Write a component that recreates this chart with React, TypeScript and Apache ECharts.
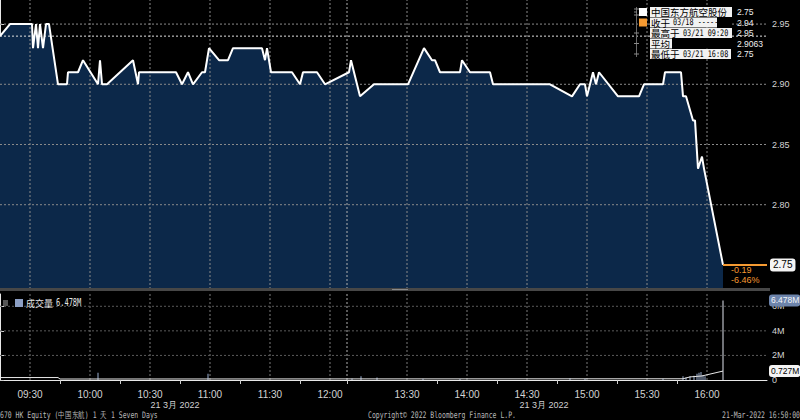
import React, { useEffect, useRef } from "react";
import * as echarts from "echarts";

// ---------- DATA ----------
const priceTimes = [
  "09:15", "09:20", "09:31", "09:31:30", "09:33", "09:34", "09:35", "09:36:30", "09:38", "09:39:30",
  "09:44", "09:48:30", "09:49", "09:54", "09:56:30", "10:04", "10:05", "10:06", "10:08:30", "10:21:30",
  "10:24", "10:24:30", "10:43", "10:46", "10:49", "10:51:30", "10:56", "10:57:30", "10:59:30", "11:04:30",
  "11:09", "11:11:30", "11:26", "11:27:30", "11:28:30", "11:30:30", "11:41", "11:45", "11:46:30", "11:53:30",
  "11:57:30", "13:01", "13:02", "13:06:30", "13:13:30", "13:30:30", "13:38:30", "13:42:30", "13:44", "13:46:30",
  "13:56:30", "13:57:30", "14:01:30", "14:11:30", "14:13", "14:41:30", "14:52:30", "14:56:30", "14:59", "15:00",
  "15:03", "15:04:30", "15:06", "15:15:30", "15:26", "15:28:30", "15:38", "15:39", "15:47", "15:48",
  "15:49:30", "15:53", "15:54", "15:55:30", "15:57:30", "15:58:30", "16:08",
];
const prices = [
  2.94, 2.95, 2.95, 2.93, 2.95, 2.93, 2.95, 2.93, 2.95, 2.95,
  2.90, 2.90, 2.91, 2.91, 2.92, 2.90, 2.92, 2.90, 2.90, 2.92,
  2.90, 2.91, 2.91, 2.90, 2.91, 2.90, 2.91, 2.91, 2.93, 2.92,
  2.92, 2.93, 2.93, 2.92, 2.93, 2.91, 2.91, 2.90, 2.91, 2.91,
  2.90, 2.91, 2.92, 2.89, 2.90, 2.90, 2.93, 2.92, 2.92, 2.91,
  2.91, 2.92, 2.91, 2.91, 2.90, 2.90, 2.89, 2.90, 2.90, 2.89,
  2.91, 2.90, 2.91, 2.89, 2.89, 2.90, 2.90, 2.91, 2.91, 2.89,
  2.89, 2.87, 2.87, 2.83, 2.84, 2.83, 2.75,
];
const prevClose = 2.94;

const volTimes = [
  "10:04", "10:59", "13:02:30", "13:07", "13:15", "13:38", "13:56:30", "14:51:30", "14:59", "15:38",
  "15:48", "15:49:30", "15:51:30", "15:53:30", "15:55", "15:56", "15:57", "15:58", "15:59", "16:08",
];
const volumes = [
  0.6, 0.5, 0.12, 0.3, 0.2, 0.1, 0.08, 0.15, 0.1, 0.1,
  0.3, 0.2, 0.3, 0.35, 0.5, 0.6, 0.65, 0.4, 0.3, 6.478,
]; // millions

const avgTimes = ["09:15", "09:44", "09:45", "15:48", "15:51:30", "15:57:30", "16:08"];
const avgVolumes = [0.2, 0.2, 0.08, 0.1, 0.25, 0.33, 0.727]; // millions

const labelTimes = ["09:30", "10:00", "10:30", "11:00", "11:30", "12:00", "13:30", "14:00", "14:30", "15:00", "15:30", "16:00"];
const tickTimes = ["09:45", "10:15", "10:45", "11:15", "11:45", "13:00", "13:45", "14:15", "14:45", "15:15", "15:45"];
const lunchTime = "13:00";
const priceLabels = [2.8, 2.85, 2.9, 2.95];
const priceTicks = [2.75, 2.8, 2.85, 2.9, 2.95];
const priceMinorTicks = [2.775, 2.825, 2.875, 2.925];
const priceGrid = [2.8, 2.85, 2.9, 2.95];
const volTicks = [0, 2, 4, 6];
const volGrid = [2, 4, 6];

const legendCJK = ["中国东方航空股份", "收于", "最高于", "平均", "最低于"];
const legendLatin = ["", "03/18 -----", "03/21 09:20", "", "03/21 16:08"];
const legendValues = ["2.75", "2.94", "2.95", "2.9063", "2.75"];
const volLegendLabel = "成交量";
const dateLabel = "21 3月 2022";
const footerLeft = "670 HK Equity (中国东航) 1 天 1 Seven Days";
const footerMid = "Copyright© 2022 Bloomberg Finance L.P.";
const footerRight = "21-Mar-2022 16:50:00";

// ---------- helpers ----------
const toX = (t: string) => {
  const [h, m, s = 0] = t.split(":").map(Number);
  const mins = h * 60 + m + s / 60;
  return mins <= 720 ? mins - 555 : mins - 780 + 173.5;
};
const X_MAX = 383.5;
const P_MIN = 2.73, P_MAX = 2.97, V_MIN = 0, V_MAX = 7;

const ORANGE = "#f59a32";
const FILL = "#0c2849";
const MONO = "'DejaVu Sans Mono', monospace";
const SANS = "'Liberation Sans', Arial, sans-serif";
const CJK = "'Noto Sans CJK SC', sans-serif";

const txt = (x: number, y: number, text: string, o: any = {}) => ({
  type: "text",
  x,
  y,
  scaleX: o.sx ?? 1,
  silent: true,
  z: 100,
  style: {
    text,
    fill: o.fill ?? "#d0d0d0",
    font: o.font ?? `10px ${SANS}`,
    textAlign: o.align ?? "left",
    align: o.align ?? "left",
    textVerticalAlign: "middle",
    verticalAlign: "middle",
    lineHeight: o.lh,
  },
});
const rect = (x: number, y: number, w: number, h: number, fill: string) => ({
  type: "rect",
  silent: true,
  z: 99,
  shape: { x, y, width: w, height: h },
  style: { fill },
});
const seg = (x1: number, y1: number, x2: number, y2: number, stroke: string) => ({
  type: "line",
  silent: true,
  z: 99,
  shape: { x1, y1, x2, y2 },
  style: { stroke, lineWidth: 1 },
});
// a gridline drawn as a 2-point line series through the panel's axes
const gridSeries = (panel: number, pts: number[][], color: string) => ({
  type: "line",
  xAxisIndex: panel,
  yAxisIndex: panel,
  data: pts,
  symbol: "none",
  silent: true,
  z: 2,
  lineStyle: { color, width: 1, type: [2, 2] },
});

export default function App() {
  const ref = useRef<HTMLDivElement>(null);

  useEffect(() => {
    const chart = echarts.init(ref.current!, null, { renderer: "svg" });

    const priceData = priceTimes.map((t, i) => [toX(t), prices[i]]);
    const avgData = avgTimes.map((t, i) => [toX(t), avgVolumes[i]]);
    const lastTime = priceTimes[priceTimes.length - 1];
    const lastPrice = prices[prices.length - 1];
    const chg = lastPrice - prevClose;
    const pct = (chg / prevClose) * 100;
    const lastVol = volumes[volumes.length - 1];
    const lastAvg = avgVolumes[avgVolumes.length - 1];

    const labelOf = (v: number) => {
      const f = labelTimes.find((t) => Math.abs(toX(t) - v) < 0.01);
      return f ?? "";
    };

    const gridLines: any[] = [];
    [0, 1].forEach((p) => {
      const lo = p === 0 ? P_MIN : V_MIN;
      const hi = p === 0 ? P_MAX : V_MAX;
      const cv = p === 0 ? "#8a8a8a" : "#7a7a7a";
      const ch = p === 0 ? "#8a8a8a" : "#5a5a5a";
      labelTimes.forEach((t) => gridLines.push(gridSeries(p, [[toX(t), lo], [toX(t), hi]], cv)));
      gridLines.push(gridSeries(p, [[toX(lunchTime), lo], [toX(lunchTime), hi]], "#b0b0b0"));
      (p === 0 ? priceGrid : volGrid).forEach((v) => gridLines.push(gridSeries(p, [[0, v], [X_MAX, v]], ch)));
    });
    gridLines.push(gridSeries(0, [[0, prevClose], [X_MAX, prevClose]], "#e0e0e0"));

    // legend graphics
    const whiteW = [82, 67, 82, 22, 81];
    const legendG: any[] = [];
    legendG.push(seg(636.5, 7, 636.5, 57, "#6a6a6a"));
    legendG.push(seg(634, 9, 639, 9, "#8a8a8a"));
    legendG.push(seg(634, 12, 637, 12, "#8a8a8a"));
    legendG.push(seg(634, 15, 639, 15, "#8a8a8a"));
    legendCJK.forEach((c, i) => {
      const top = 7 + i * 10.5;
      const cy = top + 5;
      legendG.push(rect(650, top, whiteW[i], 10, "#f2f2f2"));
      if (whiteW[i] < 80) legendG.push(rect(650 + whiteW[i], top, 82 - whiteW[i], 10, "#000"));
      legendG.push(txt(651, cy, c, { fill: "#000", font: `9.5px ${CJK}`, lh: 10 }));
      if (legendLatin[i]) {
        const off = 651 + c.length * 10 + 2;
        legendG.push(txt(off, cy, legendLatin[i], { fill: "#000", font: `9px ${MONO}`, sx: 0.76, lh: 10 }));
      }
      legendG.push(txt(737, cy, legendValues[i], { fill: "#f0f0f0", font: `9.5px ${SANS}`, sx: 0.9, lh: 10 }));
      if (i >= 2) legendG.push(seg(634, cy, 639, cy, "#8a8a8a"));
    });
    legendG.push(rect(639, 8, 8, 8, "#ffffff"));
    legendG.push(rect(639, 18.5, 8, 8, ORANGE));

    const graphics: any[] = [
      // panel separator
      rect(0, 288, 770, 3, "#474747"),
      rect(392, 289, 16, 1, "#8a8a8a"),
      // volume legend
      rect(3, 300, 5, 6, "#555"),
      rect(15, 299, 8, 8, "#8c9fc4"),
      txt(26, 303, volLegendLabel, { fill: "#e6e6e6", font: `9px ${CJK}` }),
      txt(56, 303, `${lastVol.toFixed(3)}M`, { fill: "#e6e6e6", font: `10px ${MONO}`, sx: 0.7 }),
      // date labels
      txt(175, 405, dateLabel, { fill: "#d0d0d0", font: `9px ${SANS}`, align: "center" }),
      txt(544, 405, dateLabel, { fill: "#d0d0d0", font: `9px ${SANS}`, align: "center" }),
      // footer
      txt(0, 415, footerLeft, { fill: "#b8b8b8", font: `9px ${MONO}`, sx: 0.72 }),
      txt(368, 415, footerMid, { fill: "#b8b8b8", font: `9px ${MONO}`, sx: 0.72 }),
      txt(800, 415, footerRight, { fill: "#b8b8b8", font: `9px ${MONO}`, sx: 0.72, align: "right" }),
      ...legendG,
    ];

    const boxLabel = (text: string, bg: string, fg: string) => ({
      show: true, position: "end", distance: 2, formatter: text,
      backgroundColor: bg, color: fg, padding: [2, 1, 1, 2], borderRadius: 3,
      fontSize: 8.5, fontFamily: SANS,
    });

    const option: any = {
      animation: false,
      backgroundColor: "#000",
      textStyle: { fontFamily: SANS },
      grid: [
        { left: 0, right: 33, top: 0, height: 289 },
        { left: 0, right: 33, top: 294, height: 86 },
      ],
      xAxis: [
        { type: "value", gridIndex: 0, min: 0, max: X_MAX, show: false },
        {
          type: "value", gridIndex: 1, min: 0, max: X_MAX,
          axisLine: { show: true, lineStyle: { color: "#e8e8e8", width: 1 } },
          axisTick: { show: true, length: 4, customValues: tickTimes.map(toX), lineStyle: { color: "#cfcfcf" } },
          axisLabel: {
            show: true, customValues: labelTimes.map(toX), formatter: (v: number) => labelOf(v),
            color: "#d4d4d4", fontSize: 10, margin: 9, fontFamily: SANS,
          },
          splitLine: { show: false },
        },
      ],
      yAxis: [
        {
          type: "value", gridIndex: 0, position: "right", min: P_MIN, max: P_MAX,
          axisLine: { show: true, lineStyle: { color: "#e8e8e8", width: 1 } },
          axisTick: {
            show: true, length: 4, customValues: [...priceTicks, ...priceMinorTicks],
            lineStyle: { color: "#cfcfcf", width: 1 },
          },
          axisLabel: {
            show: true, customValues: priceLabels, formatter: (v: number) => v.toFixed(2),
            color: "#d4d4d4", fontSize: 9, margin: 5, fontFamily: SANS,
          },
          splitLine: { show: false },
        },
        {
          type: "value", gridIndex: 1, position: "right", min: V_MIN, max: V_MAX,
          axisLine: { show: true, lineStyle: { color: "#e8e8e8", width: 1 } },
          axisTick: { show: true, length: 4, customValues: volTicks, lineStyle: { color: "#cfcfcf" } },
          axisLabel: {
            show: true, customValues: volTicks, formatter: (v: number) => (v === 0 ? "0" : `${v}M`),
            color: "#d4d4d4", fontSize: 9, margin: 5, fontFamily: SANS,
          },
          splitLine: { show: false },
        },
      ],
      series: [
        {
          name: "area", type: "line", xAxisIndex: 0, yAxisIndex: 0, data: priceData,
          symbol: "none", silent: true, z: 1,
          lineStyle: { color: FILL, width: 1 },
          areaStyle: { color: FILL, opacity: 1, origin: "start" },
        },
        ...gridLines,
        {
          name: "price", type: "line", xAxisIndex: 0, yAxisIndex: 0, data: priceData,
          symbol: "none", silent: true, z: 3,
          lineStyle: { color: "#ffffff", width: 2 },
          markLine: {
            silent: true, symbol: ["none", "none"],
            data: [
              [
                {
                  coord: [toX(lastTime), lastPrice],
                  lineStyle: { color: ORANGE, width: 2, type: "solid" },
                  label: {
                    show: true, position: "end", distance: 3,
                    formatter: () => lastPrice.toFixed(2),
                    backgroundColor: "#f4f4f4", color: "#000", padding: [2, 3, 1, 3], borderRadius: 3,
                    fontSize: 10, fontFamily: SANS,
                  },
                },
                { coord: [X_MAX, lastPrice] },
              ],
            ],
          },
          markPoint: {
            silent: true, symbol: "circle", symbolSize: 0,
            data: [
              {
                coord: [toX(lastTime), lastPrice],
                label: {
                  show: true, position: [8, 0], align: "left", verticalAlign: "top",
                  formatter: `${chg.toFixed(2)}\n${pct.toFixed(2)}%`,
                  color: ORANGE, fontSize: 9, lineHeight: 10, fontFamily: SANS,
                },
              },
            ],
          },
        },
        {
          name: "vol", type: "bar", xAxisIndex: 1, yAxisIndex: 1, silent: true, z: 3,
          barWidth: 1,
          data: volTimes.map((t, i) => ({
            value: [toX(t), volumes[i]],
            itemStyle: { color: i === volTimes.length - 1 ? "#dfe4ee" : "#9bb0d2" },
          })),
        },
        {
          name: "avg", type: "line", xAxisIndex: 1, yAxisIndex: 1, silent: true, z: 4,
          symbol: "none",
          data: avgData,
          lineStyle: { color: "#e8e8e8", width: 1 },
          markLine: {
            silent: true, symbol: ["none", "none"],
            data: [
              [
                {
                  coord: [toX(volTimes[volTimes.length - 1]), lastVol],
                  lineStyle: { color: "rgba(0,0,0,0)", width: 0 },
                  label: boxLabel(`${lastVol.toFixed(3)}M`, "#6d84ab", "#f4f6fa"),
                },
                { coord: [X_MAX, lastVol] },
              ],
              [
                {
                  coord: [toX(avgTimes[avgTimes.length - 1]), lastAvg],
                  lineStyle: { color: "rgba(0,0,0,0)", width: 0 },
                  label: boxLabel(`${lastAvg.toFixed(3)}M`, "#f4f4f4", "#000"),
                },
                { coord: [X_MAX, lastAvg] },
              ],
            ],
          },
        },
      ],
      graphic: graphics,
    };

    chart.setOption(option);
    return () => chart.dispose();
  }, []);

  return (
    <div
      ref={ref}
      style={{ position: "fixed", left: 0, top: 0, width: 800, height: 420, background: "#000" }}
    />
  );
}
